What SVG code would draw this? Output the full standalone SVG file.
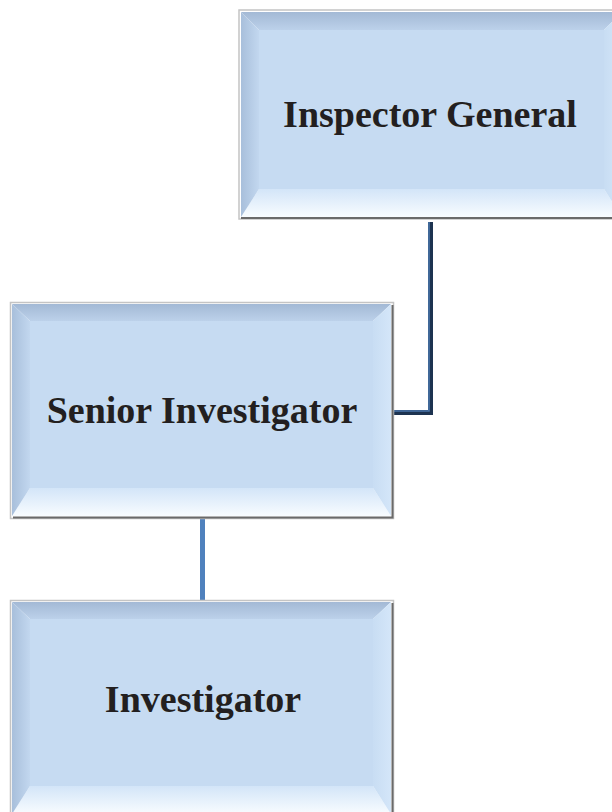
<svg xmlns="http://www.w3.org/2000/svg" width="612" height="812" viewBox="0 0 612 812">
<defs>
<linearGradient id="gTop" x1="0" y1="0" x2="0" y2="1"><stop offset="0" stop-color="#a3b9d5"/><stop offset="1" stop-color="#bcd1ea"/></linearGradient>
<linearGradient id="gBot" x1="0" y1="0" x2="0" y2="1"><stop offset="0" stop-color="#d3e5f8"/><stop offset="1" stop-color="#f8fcff"/></linearGradient>
<linearGradient id="gLeft" x1="0" y1="0" x2="1" y2="0"><stop offset="0" stop-color="#a8bfdb"/><stop offset="1" stop-color="#c2d7ef"/></linearGradient>
<linearGradient id="gRight" x1="0" y1="0" x2="1" y2="0"><stop offset="0" stop-color="#c8ddf3"/><stop offset="1" stop-color="#d4e6f9"/></linearGradient>
</defs>
<style>
.frame{fill:#ffffff;stroke:#c4c4c4;stroke-width:1.5}
.shadow{fill:none;stroke:#6a6a6a;stroke-width:2}
.face{fill:#c6dbf2}
.lbl{font-family:"Liberation Serif","Times New Roman",serif;font-weight:bold;font-size:38px;fill:#231f20;text-anchor:middle}
</style>
<g id="connectors">
<path d="M430.5,222 V412.5 H393" fill="none" stroke="#1d3350" stroke-width="5"/>
<path d="M429,222 V411 H393" fill="none" stroke="#4a76ab" stroke-width="1.6"/>
<path d="M202.5,519 V601" fill="none" stroke="#4f81bd" stroke-width="5"/>
</g>
<g id="inspector-general">
<rect class="frame" x="239" y="10" width="384" height="209"/>
<path class="shadow" d="M241,218 H623"/>
<polygon points="241,12 622,12 604,30 259,30" fill="url(#gTop)"/>
<polygon points="241,217 622,217 604,189 259,189" fill="url(#gBot)"/>
<polygon points="241,12 259,30 259,189 241,217" fill="url(#gLeft)"/>
<polygon points="622,12 604,30 604,189 622,217" fill="url(#gRight)"/>
<rect class="face" x="259" y="30" width="345" height="159"/>
<text class="lbl" x="430" y="127">Inspector General</text>
</g>
<g id="senior-investigator">
<rect class="frame" x="10.5" y="302.5" width="383" height="216"/>
<path class="shadow" d="M13,517.5 H392.5 V305"/>
<polygon points="12,304 391,304 373,321 30,321" fill="url(#gTop)"/>
<polygon points="12,516 391,516 373,488 30,488" fill="url(#gBot)"/>
<polygon points="12,304 30,321 30,488 12,516" fill="url(#gLeft)"/>
<polygon points="391,304 373,321 373,488 391,516" fill="url(#gRight)"/>
<rect class="face" x="30" y="321" width="343" height="167"/>
<text class="lbl" x="202" y="423">Senior Investigator</text>
</g>
<g id="investigator">
<rect class="frame" x="10.5" y="600.5" width="383" height="216"/>
<path class="shadow" d="M392.5,603 V812"/>
<polygon points="12,602 391,602 373,619 30,619" fill="url(#gTop)"/>
<polygon points="12,814 391,814 373,786 30,786" fill="url(#gBot)"/>
<polygon points="12,602 30,619 30,786 12,814" fill="url(#gLeft)"/>
<polygon points="391,602 373,619 373,786 391,814" fill="url(#gRight)"/>
<rect class="face" x="30" y="619" width="343" height="167"/>
<text class="lbl" x="203" y="712">Investigator</text>
</g>
</svg>
